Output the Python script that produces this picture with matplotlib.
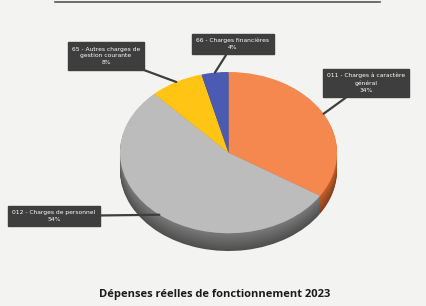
import numpy as np
import matplotlib.pyplot as plt
from matplotlib.lines import Line2D
from matplotlib.colors import to_rgb

labels = ["011 - Charges à caractère\ngénéral\n34%",
          "012 - Charges de personnel\n54%",
          "65 - Autres charges de\ngestion courante\n8%",
          "66 - Charges financières\n4%"]
values = [34, 54, 8, 4]
colors = ["#f5884f", "#bcbcbc", "#ffc414", "#4b5ab2"]
side_colors = ["#c8612c", "#7a7a7a", "#c99400", "#2f3d85"]
# label box centres (pixels, top-left origin)
box_pos = [(366, 83), (54, 216), (106, 56), (233, 44)]

W, H = 427, 306
fig = plt.figure(figsize=(W / 100, H / 100), dpi=100)
fig.patch.set_facecolor("#f3f3f1")

# pie axes: ellipse top face 120..337 px wide, 72..233 px high, plus depth
depth = 0.22
ax = fig.add_axes([120 / W, 1 - 251 / H, 217 / W, (251 - 72) / H])
ax.set_facecolor("none")

# side of the 3D disc, darker towards the bottom
for d in np.linspace(depth, 0.01, 16):
    k = 1 - 0.35 * d / depth
    cols = [tuple(c * k for c in to_rgb(s)) for s in side_colors]
    ax.pie(values, colors=cols, startangle=90, counterclock=False,
           radius=1, center=(0, -d), wedgeprops=dict(linewidth=0))

wedges, _ = ax.pie(values, colors=colors, startangle=90, counterclock=False,
                   radius=1, center=(0, 0), wedgeprops=dict(linewidth=0))
ax.set_aspect("auto")
ax.set_xlim(-1, 1)
ax.set_ylim(-1 - depth, 1)
ax.axis("off")

for w, lab, (bx, by) in zip(wedges, labels, box_pos):
    mid = np.deg2rad((w.theta1 + w.theta2) / 2)
    px, py = np.cos(mid) * 1.0, np.sin(mid) * 1.0
    ax.annotate(lab, xy=(px, py), xycoords="data",
                xytext=(bx / W, 1 - by / H), textcoords="figure fraction",
                ha="center", va="center", fontsize=4.3, color="white",
                linespacing=1.5, annotation_clip=False,
                bbox=dict(boxstyle="square,pad=0.7", fc="#3e3e3e", ec="#3e3e3e"),
                arrowprops=dict(arrowstyle="-", color="#3e3e3e", lw=1.6,
                                shrinkA=0, shrinkB=0))

fig.add_artist(Line2D([55 / W, 380 / W], [1 - 1.5 / H, 1 - 1.5 / H],
                      color="#555555", lw=1.2, transform=fig.transFigure))

fig.text(0.503, 1 - 295 / H, "Dépenses réelles de fonctionnement 2023",
         ha="center", va="center", fontsize=8, fontweight="bold",
         family="Open Sans", color="#1a1a1a")

fig.savefig("out.png", dpi=100, facecolor=fig.get_facecolor())
